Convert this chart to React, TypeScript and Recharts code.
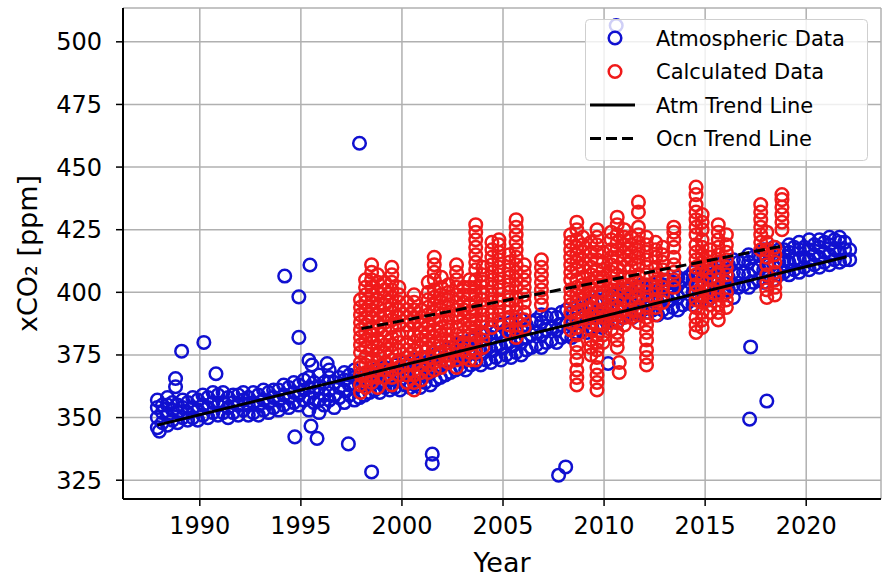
import React from 'react';
import { ScatterChart, Scatter, XAxis, YAxis, CartesianGrid } from 'recharts';

const xTicks = [1990, 1995, 2000, 2005, 2010, 2015, 2020];
const yTicks = [325, 350, 375, 400, 425, 450, 475, 500];
const xDomain = [1986.2, 2023.7];
const yDomain = [317.5, 513.5];

// Atmospheric data: [year, ...xCO2 values]
const atmBand: number[][] = [
  [1987.9, 346, 350, 354, 357],
  [1988.15, 348, 352, 355],
  [1988.4, 347, 351, 355, 358],
  [1988.65, 349, 353, 356],
  [1988.9, 348, 352, 355],
  [1989.15, 350, 354, 357],
  [1989.4, 349, 352, 356],
  [1989.65, 350, 354, 358],
  [1989.9, 349, 353, 357],
  [1990.15, 351, 355, 359],
  [1990.4, 350, 354, 358],
  [1990.65, 352, 356, 360],
  [1990.9, 351, 355, 359],
  [1991.15, 352, 356, 360],
  [1991.4, 350, 354, 358],
  [1991.65, 352, 356, 359],
  [1991.9, 351, 355, 359],
  [1992.15, 353, 357, 360],
  [1992.4, 351, 355, 358],
  [1992.65, 352, 356, 360],
  [1992.9, 351, 355, 359],
  [1993.15, 353, 357, 361],
  [1993.4, 352, 356, 360],
  [1993.65, 354, 358, 361],
  [1993.9, 353, 357, 361],
  [1994.15, 355, 359, 363],
  [1994.4, 354, 358, 362],
  [1994.65, 356, 360, 364],
  [1994.9, 355, 359, 363],
  [1995.15, 357, 361, 365],
  [1995.4, 353, 358, 362, 366],
  [1995.65, 356, 360, 364],
  [1995.9, 352, 357, 362, 367],
  [1996.15, 355, 359, 364],
  [1996.4, 357, 361, 366, 369],
  [1996.65, 354, 359, 364],
  [1996.9, 358, 362, 366],
  [1997.15, 356, 361, 365, 368],
  [1997.4, 359, 363, 367],
  [1997.65, 357, 362, 366, 369],
  [1997.9, 358, 363, 367],
  [1998.15, 359, 363, 367],
  [1998.4, 360, 364, 368],
  [1998.65, 361, 365, 369],
  [1998.9, 360, 364, 368],
  [1999.15, 362, 366, 370],
  [1999.4, 361, 365, 369],
  [1999.65, 362, 366, 371],
  [1999.9, 361, 365, 370],
  [2000.15, 363, 367, 372],
  [2000.4, 362, 366, 371],
  [2000.65, 363, 368, 373],
  [2000.9, 362, 367, 372],
  [2001.15, 364, 369, 374],
  [2001.4, 363, 368, 373],
  [2001.65, 365, 370, 375],
  [2001.9, 366, 371, 376],
  [2002.15, 367, 372, 377],
  [2002.4, 368, 373, 378],
  [2002.65, 369, 374, 379],
  [2002.9, 370, 375, 380],
  [2003.15, 369, 374, 379],
  [2003.4, 371, 376, 381],
  [2003.65, 372, 377, 382],
  [2003.9, 371, 376, 381],
  [2004.15, 373, 378, 383],
  [2004.4, 372, 377, 382, 386],
  [2004.65, 374, 379, 384],
  [2004.9, 373, 378, 383, 387],
  [2005.15, 375, 380, 385],
  [2005.4, 374, 379, 384, 388],
  [2005.65, 376, 381, 386],
  [2005.9, 375, 380, 385, 389],
  [2006.15, 377, 382, 387],
  [2006.4, 378, 383, 388],
  [2006.65, 379, 384, 389],
  [2006.9, 378, 383, 388, 391],
  [2007.15, 380, 385, 390],
  [2007.4, 381, 386, 391],
  [2007.65, 380, 385, 390],
  [2007.9, 382, 387, 392],
  [2008.15, 383, 388, 393],
  [2008.4, 382, 387, 392],
  [2008.65, 384, 389, 394],
  [2008.9, 385, 390, 395],
  [2009.15, 384, 389, 394],
  [2009.4, 386, 391, 396],
  [2009.65, 387, 392, 397],
  [2009.9, 386, 391, 396],
  [2010.15, 388, 393, 398],
  [2010.4, 389, 394, 399],
  [2010.65, 388, 393, 398],
  [2010.9, 390, 395, 400],
  [2011.15, 391, 396, 401],
  [2011.4, 390, 395, 400],
  [2011.65, 392, 397, 402],
  [2011.9, 393, 398, 403],
  [2012.15, 392, 397, 402],
  [2012.4, 393, 398, 403],
  [2012.65, 391, 396, 401, 404],
  [2012.9, 393, 398, 403],
  [2013.15, 392, 397, 402, 405],
  [2013.4, 394, 399, 404],
  [2013.65, 393, 398, 403, 406],
  [2013.9, 395, 400, 405],
  [2014.15, 396, 401, 406],
  [2014.4, 395, 400, 405, 408],
  [2014.65, 397, 402, 407],
  [2014.9, 398, 403, 408],
  [2015.15, 397, 402, 407, 410],
  [2015.4, 399, 404, 409],
  [2015.65, 400, 405, 410],
  [2015.9, 399, 404, 409, 412],
  [2016.15, 401, 406, 411],
  [2016.4, 398, 403, 408, 413],
  [2016.65, 402, 407, 412],
  [2016.9, 403, 408, 413],
  [2017.15, 402, 407, 412, 415],
  [2017.4, 404, 409, 414],
  [2017.65, 405, 410, 415],
  [2017.9, 404, 409, 414, 417],
  [2018.15, 406, 411, 416],
  [2018.4, 405, 410, 415, 418],
  [2018.65, 407, 412, 417],
  [2018.9, 408, 413, 417],
  [2019.15, 407, 412, 416, 419],
  [2019.4, 409, 413, 418],
  [2019.65, 408, 413, 417, 420],
  [2019.9, 410, 414, 418],
  [2020.15, 409, 413, 417, 421],
  [2020.4, 411, 415, 419],
  [2020.65, 410, 414, 418, 421],
  [2020.9, 412, 416, 420],
  [2021.15, 411, 415, 419, 422],
  [2021.4, 413, 417, 421],
  [2021.65, 412, 416, 420, 422],
  [2021.9, 413, 417, 420],
  [2022.15, 413, 417],
];

// Atmospheric outliers: [year, xCO2]
const atmOutliers: number[][] = [
  [1988.0, 344.6], [1988.8, 365.6], [1988.8, 362.3], [1989.1, 376.5],
  [1990.2, 380.0], [1990.8, 367.5], [1994.2, 406.5], [1994.9, 398.2],
  [1995.45, 410.9], [1994.9, 382.0], [1995.4, 372.9], [1995.55, 371.0],
  [1996.3, 371.6], [1994.7, 342.3], [1995.8, 341.7], [1995.5, 346.6],
  [1997.35, 339.5], [1998.5, 328.3], [1997.9, 459.5], [2001.5, 335.4],
  [2001.5, 331.7], [2007.75, 327.0], [2008.1, 330.3], [2010.2, 371.6],
  [2010.6, 506.5], [2017.25, 378.2], [2017.2, 349.4], [2018.05, 356.6],
];

// Calculated (ocean) data columns: [year, ...xCO2 values]
const calcColumns: number[][] = [
  [1997.95, 360, 363, 367, 370, 372, 376, 379, 382, 385, 388, 391, 394, 397],
  [1998.2, 362, 365, 368, 371, 374, 378, 381, 384, 387, 390, 393, 396, 399, 402, 405],
  [1998.5, 364, 367, 370, 373, 377, 380, 383, 386, 390, 393, 396, 399, 402, 405, 408, 411],
  [1998.8, 362, 366, 369, 372, 375, 378, 381, 385, 388, 391, 394, 397, 400, 404, 407],
  [1999.15, 366, 369, 372, 376, 379, 382, 385, 388, 391, 395, 398, 401, 404],
  [1999.5, 363, 366, 369, 373, 376, 379, 382, 386, 389, 392, 395, 398, 401, 404, 407, 410],
  [1999.85, 367, 370, 373, 377, 380, 383, 387, 390, 393, 396, 399, 402],
  [2000.25, 364, 367, 371, 374, 377, 380, 384, 387, 390, 393, 396],
  [2000.6, 361, 364, 367, 371, 374, 377, 380, 383, 387, 390, 393, 396, 399],
  [2000.95, 365, 368, 371, 374, 378, 381, 384, 387, 390, 393],
  [2001.3, 368, 371, 374, 378, 381, 384, 387, 391, 394, 397, 400, 404],
  [2001.6, 369, 372, 376, 379, 382, 385, 389, 392, 395, 398, 401, 405, 408, 411, 414],
  [2001.95, 370, 373, 376, 380, 383, 386, 389, 393, 396, 399, 402, 406],
  [2002.3, 372, 375, 378, 381, 385, 388, 391, 394, 397, 400, 403],
  [2002.7, 370, 373, 377, 380, 383, 386, 390, 393, 396, 399, 402, 405, 408, 411],
  [2003.05, 374, 377, 380, 384, 387, 390, 393, 396, 399, 402],
  [2003.35, 373, 376, 379, 383, 386, 389, 392, 395, 399, 402, 405],
  [2003.65, 373, 376, 380, 383, 386, 389, 393, 396, 399, 402, 405, 409, 412, 415, 418, 421, 424, 427],
  [2004.0, 378, 381, 384, 388, 391, 394, 397, 400, 404, 407, 410],
  [2004.45, 386, 389, 392, 396, 399, 402, 405, 408, 411, 414, 417, 420],
  [2004.8, 388, 391, 394, 397, 401, 404, 407, 410, 413, 416, 419, 421],
  [2005.3, 384, 387, 390, 394, 397, 400, 403, 406, 409, 412, 415],
  [2005.65, 382, 385, 389, 392, 395, 398, 402, 405, 408, 411, 414, 417, 420, 423, 426, 429],
  [2006.05, 386, 389, 392, 396, 399, 402, 405, 408, 411],
  [2006.9, 395, 398, 401, 404, 407, 410, 413],
  [2008.35, 385, 388, 392, 395, 398, 401, 405, 408, 411, 414, 417, 420, 423],
  [2008.65, 363, 366, 369, 373, 376, 379, 383, 386, 389, 392, 396, 399, 402, 405, 409, 412, 415, 418, 421, 425, 428],
  [2008.95, 390, 393, 397, 400, 403, 406, 410, 413, 416, 419, 422],
  [2009.35, 375, 378, 381, 385, 388, 391, 394, 398, 401, 404, 407, 410, 413, 416, 420],
  [2009.65, 361, 364, 367, 370, 374, 377, 380, 383, 387, 390, 393, 396, 400, 403, 406, 409, 413, 416, 419, 422, 425],
  [2009.95, 380, 383, 387, 390, 393, 396, 400, 403, 406, 409, 412, 416],
  [2010.35, 385, 388, 391, 395, 398, 401, 404, 408, 411, 414, 417, 421, 424],
  [2010.65, 378, 381, 384, 388, 391, 394, 397, 401, 404, 407, 410, 414, 417, 420, 423, 427, 430],
  [2010.75, 368, 372],
  [2011.0, 387, 390, 393, 397, 400, 403, 406, 410, 413, 416, 419, 422, 425],
  [2011.35, 390, 393, 397, 400, 403, 406, 410, 413, 416, 419, 422],
  [2011.7, 388, 391, 394, 398, 401, 404, 407, 411, 414, 417, 420, 423, 426, 432, 436],
  [2012.1, 371, 374, 377, 381, 384, 387, 390, 394, 397, 400, 403, 407, 410, 413, 416, 419, 422],
  [2012.55, 391, 394, 397, 401, 404, 407, 410, 414, 417, 420],
  [2012.9, 396, 399, 402, 405, 409, 412, 415, 418],
  [2013.45, 402, 405, 408, 411, 414, 418, 421, 424, 426],
  [2014.55, 384, 387, 390, 394, 397, 400, 403, 407, 410, 413, 416, 419, 423, 426, 429, 432, 435, 439, 442],
  [2014.85, 386, 389, 392, 396, 399, 402, 405, 409, 412, 415, 418, 421, 425, 428, 431],
  [2015.25, 392, 395, 398, 401, 405, 408, 411, 414, 417],
  [2015.65, 389, 392, 395, 399, 402, 405, 408, 412, 415, 418, 421, 424, 427],
  [2016.05, 394, 397, 400, 404, 407, 410, 413, 416, 419, 423],
  [2017.75, 417, 420, 423, 426, 429, 432, 435],
  [2018.05, 398, 401, 404, 407, 411, 414, 417, 420, 424],
  [2018.45, 399, 402, 405, 408, 412, 415, 418],
  [2018.8, 425, 428, 431, 434, 437, 439],
];

const atmTrend: number[][] = [[1987.9, 347.0], [2022.0, 414.2]];
const ocnTrend: number[][] = [[1998.0, 385.5], [2018.7, 418.3]];

const BLUE = '#1010d0';
const RED = '#f01a1a';
const FONT = 'DejaVu Sans';

const toPoints = (rows: number[][]) =>
  rows.flatMap(([year, ...vals]) => vals.map((v) => ({ year, co2: v })));

const atmData = [...toPoints(atmBand), ...toPoints(atmOutliers)];
const calcData = toPoints(calcColumns);
const atmTrendData = toPoints(atmTrend);
const ocnTrendData = toPoints(ocnTrend);

const ring = (color: string) => (props: any) =>
  <circle cx={props.cx} cy={props.cy} r={6.3} fill="none" stroke={color} strokeWidth={2.5} />;
const noShape = () => <g />;

const XTitle = (props: any) => {
  const vb = props.viewBox ?? { x: 123, y: 499, width: 758, height: 80 };
  return (
    <text x={vb.x + vb.width / 2} y={vb.y + vb.height - 7} textAnchor="middle"
      fontSize={27} fontFamily={FONT} fill="#000">Year</text>
  );
};

const YTitle = (props: any) => {
  const vb = props.viewBox ?? { x: 0, y: 8, width: 123, height: 491 };
  const cx = vb.x + 37;
  const cy = vb.y + vb.height / 2;
  return (
    <text x={0} y={0} transform={`translate(${cx}, ${cy}) rotate(-90)`} textAnchor="middle"
      fontSize={27} fontFamily={FONT} fill="#000">xCO₂ [ppm]</text>
  );
};

const legendItems = [
  { label: 'Atmospheric Data', kind: 'marker', color: BLUE },
  { label: 'Calculated Data', kind: 'marker', color: RED },
  { label: 'Atm Trend Line', kind: 'solid', color: '#000' },
  { label: 'Ocn Trend Line', kind: 'dashed', color: '#000' },
];

const LegendBox = () => (
  <svg width={283} height={142} style={{ position: 'absolute', left: 585, top: 19 }}>
    <rect x={0.5} y={0.5} width={282} height={141} rx={4} ry={4}
      fill="rgba(255,255,255,0.8)" stroke="#cfcfcf" strokeWidth={1} />
    {legendItems.map((it, i) => {
      const y = 19 + i * 33.5;
      return (
        <g key={it.label}>
          {it.kind === 'marker' && (
            <circle cx={30} cy={y} r={6.3} fill="none" stroke={it.color} strokeWidth={2.5} />
          )}
          {it.kind === 'solid' && (
            <line x1={5} x2={50} y1={y} y2={y} stroke="#000" strokeWidth={3} />
          )}
          {it.kind === 'dashed' && (
            <line x1={5} x2={50} y1={y} y2={y} stroke="#000" strokeWidth={3} strokeDasharray="11 5" />
          )}
          <text x={71} y={y + 7.5} fontSize={21} fontFamily={FONT} fill="#000">{it.label}</text>
        </g>
      );
    })}
  </svg>
);

export default function App() {
  return (
    <div style={{ position: 'absolute', left: 0, top: 0, width: 886, height: 579, background: '#fff', fontFamily: FONT }}>
      <ScatterChart width={886} height={579} margin={{ top: 8, right: 5, bottom: 0, left: 0 }}>
        <CartesianGrid stroke="#b0b0b0" strokeWidth={1.5} />
        <XAxis type="number" dataKey="year" domain={xDomain} ticks={xTicks} allowDataOverflow
          height={80} tickSize={7} tickMargin={11}
          tick={{ fill: '#000', fontSize: 24, fontFamily: FONT }}
          tickLine={{ stroke: '#000', strokeWidth: 1.5 }}
          axisLine={{ stroke: '#000', strokeWidth: 2 }}
          label={<XTitle />} />
        <YAxis type="number" dataKey="co2" domain={yDomain} ticks={yTicks} allowDataOverflow
          width={123} tickSize={7} tickMargin={14}
          tick={{ fill: '#000', fontSize: 24, fontFamily: FONT }}
          tickLine={{ stroke: '#000', strokeWidth: 1.5 }}
          axisLine={{ stroke: '#000', strokeWidth: 2 }}
          label={<YTitle />} />
        <XAxis xAxisId="top" orientation="top" type="number" dataKey="year" domain={xDomain}
          allowDataOverflow height={0} tick={false} tickLine={false}
          axisLine={{ stroke: '#000', strokeWidth: 2 }} />
        <YAxis yAxisId="right" orientation="right" type="number" dataKey="co2" domain={yDomain}
          allowDataOverflow width={0} tick={false} tickLine={false}
          axisLine={{ stroke: '#000', strokeWidth: 2 }} />
        <Scatter name="Atmospheric Data" data={atmData} shape={ring(BLUE)} isAnimationActive={false} />
        <Scatter name="Calculated Data" data={calcData} shape={ring(RED)} isAnimationActive={false} />
        <Scatter name="Atm Trend Line" data={atmTrendData} shape={noShape}
          line={{ stroke: '#000', strokeWidth: 3 }} isAnimationActive={false} />
        <Scatter name="Ocn Trend Line" data={ocnTrendData} shape={noShape}
          line={{ stroke: '#000', strokeWidth: 3, strokeDasharray: '11 5' }} isAnimationActive={false} />
      </ScatterChart>
      <LegendBox />
    </div>
  );
}
